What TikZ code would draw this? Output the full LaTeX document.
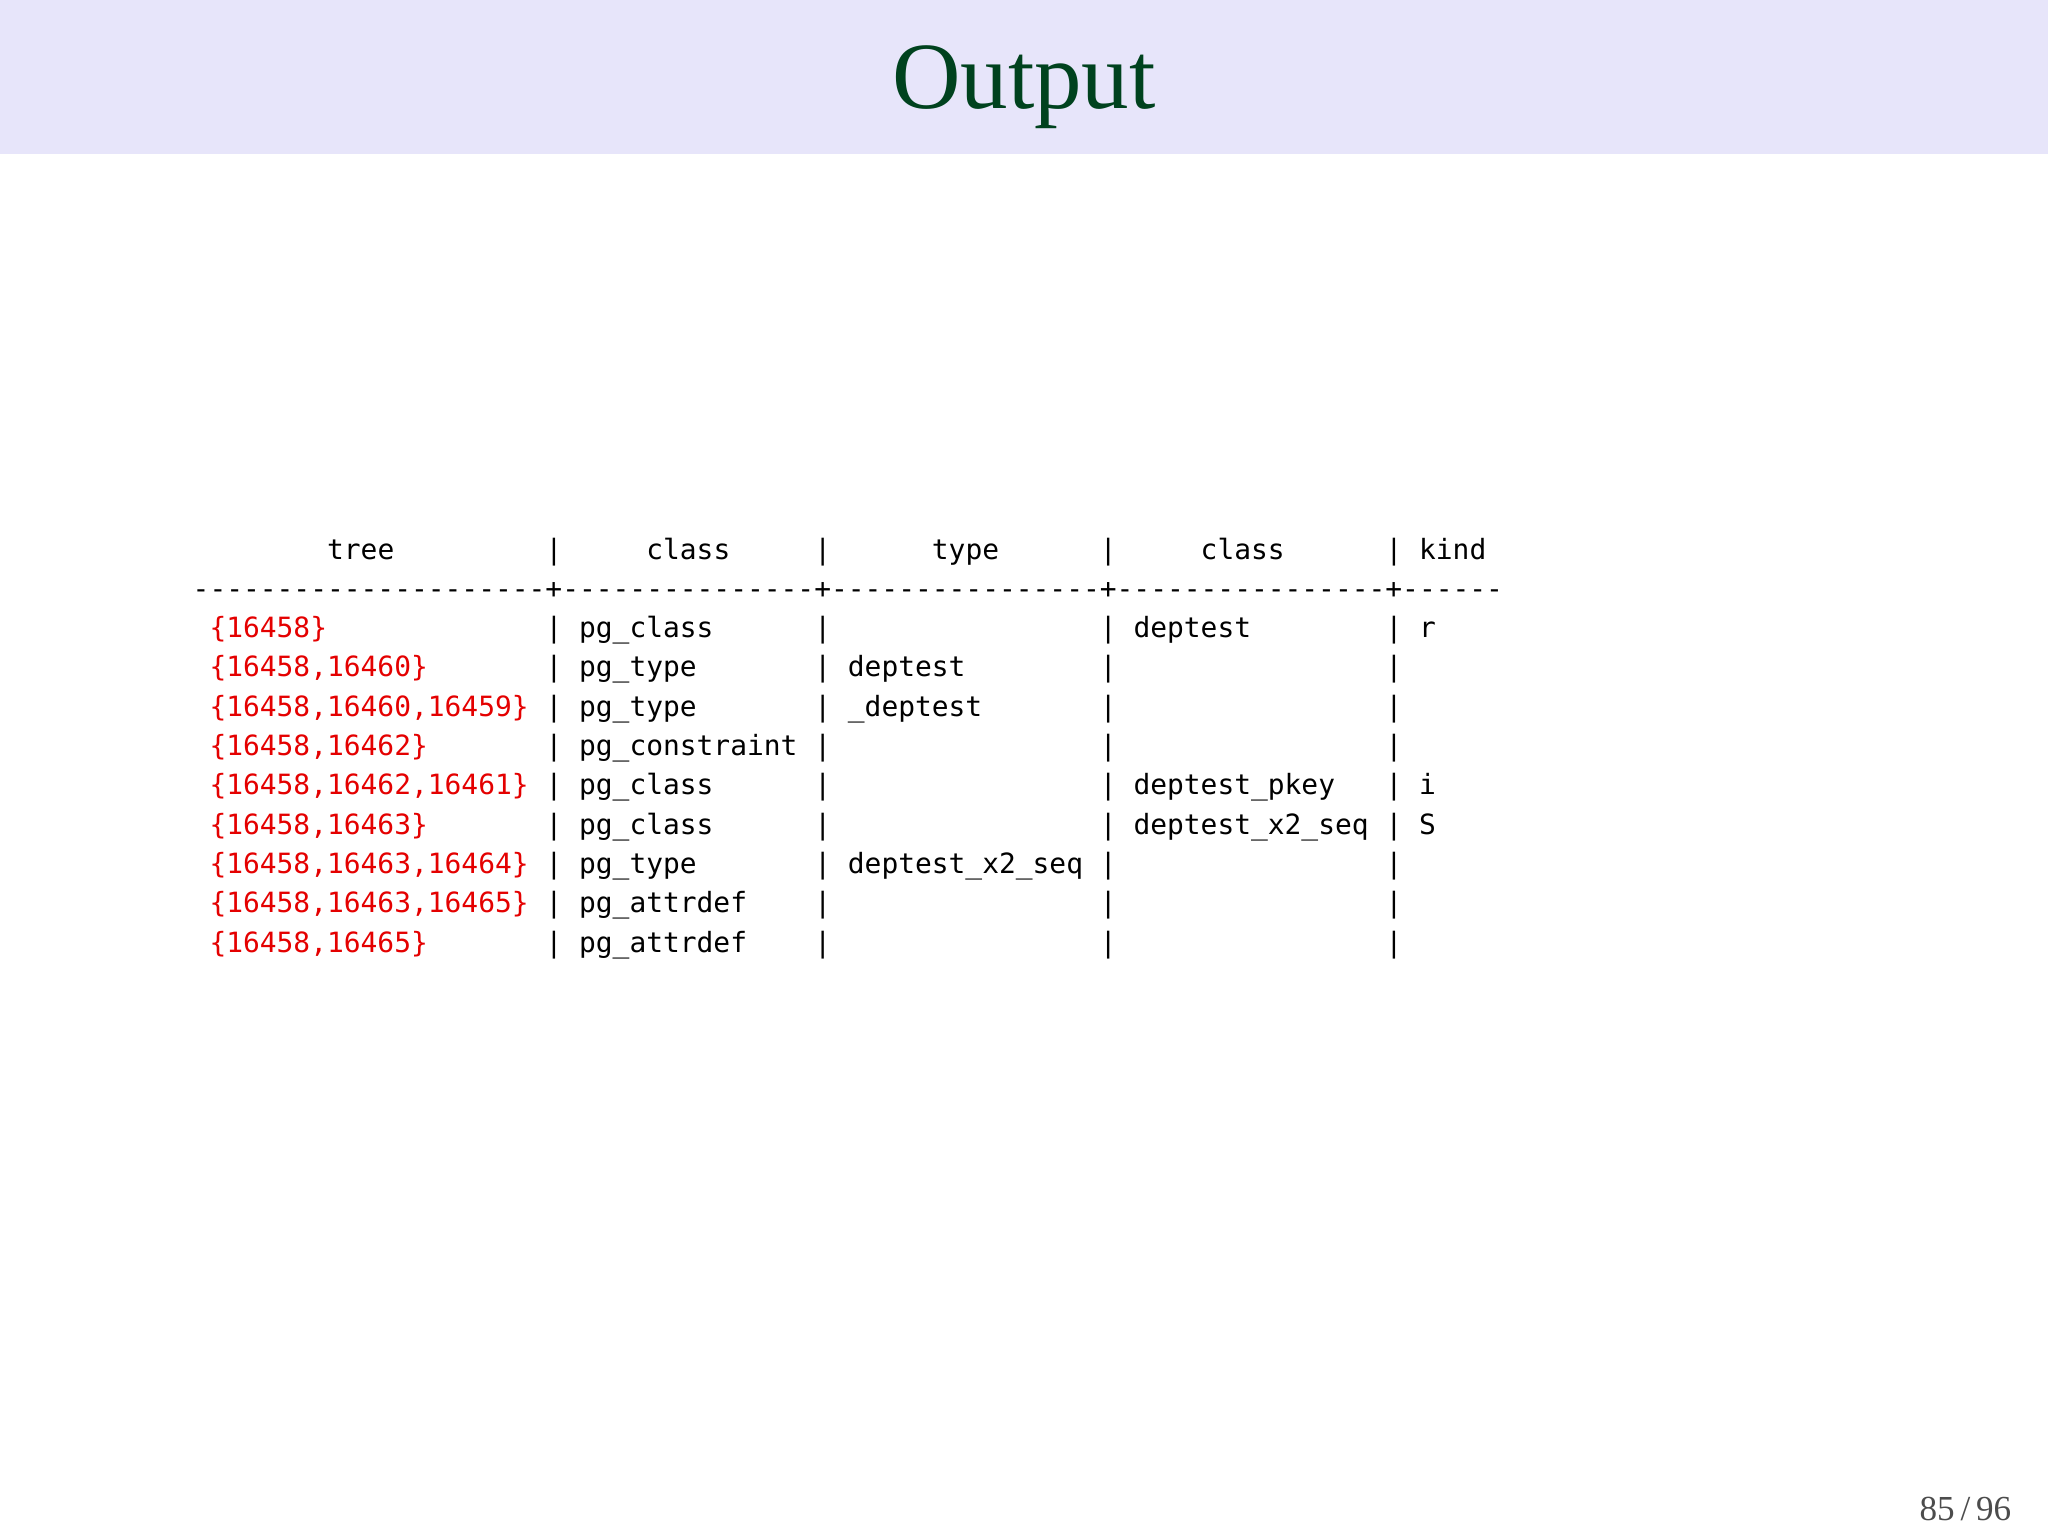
\documentclass[tikz,border=0pt]{standalone}
\usepackage{fontspec}
\setmainfont{Liberation Serif}
\newfontfamily\mono{DejaVu Sans Mono}
\definecolor{band}{RGB}{231,229,250}
\definecolor{titlegreen}{RGB}{0,66,30}
\definecolor{treered}{RGB}{228,0,0}
\tikzset{cellt/.style={anchor=base west,inner sep=0pt,font=\mono\fontsize{7.94pt}{9pt}\selectfont}}
\newcommand\cellat[4][black]{\node[cellt,text=#1] at ({1.92+#2*0.168},{-5.59-#3*0.393}) {#4};}
\def\dd{-{}}
\begin{document}
\begin{tikzpicture}[x=1cm,y=1cm]
\useasboundingbox (0,0) rectangle (20.48,-15.36);
\fill[band] (0,0) rectangle (20.48,-1.54);
\node[font=\fontsize{27pt}{30pt}\selectfont,text=titlegreen] (title) at (10.24,-0.87) {Output};
% header
\cellat{8}{0}{tree}
\cellat{27}{0}{class}
\cellat{44}{0}{type}
\cellat{60}{0}{class}
\cellat{73}{0}{kind}
\foreach \c in {21,37,54,71}{\cellat{\c}{0}{|}}
% dash line
\cellat{0}{1}{\dd\dd\dd\dd\dd\dd\dd\dd\dd\dd\dd\dd\dd\dd\dd\dd\dd\dd\dd\dd\dd+\dd\dd\dd\dd\dd\dd\dd\dd\dd\dd\dd\dd\dd\dd\dd+\dd\dd\dd\dd\dd\dd\dd\dd\dd\dd\dd\dd\dd\dd\dd\dd+\dd\dd\dd\dd\dd\dd\dd\dd\dd\dd\dd\dd\dd\dd\dd\dd+\dd\dd\dd\dd\dd\dd}
% rows
\foreach \r in {2,...,10}{\foreach \c in {21,37,54,71}{\cellat{\c}{\r}{|}}}
\cellat[treered]{1}{2}{\{16458\}}
\cellat[treered]{1}{3}{\{16458,16460\}}
\cellat[treered]{1}{4}{\{16458,16460,16459\}}
\cellat[treered]{1}{5}{\{16458,16462\}}
\cellat[treered]{1}{6}{\{16458,16462,16461\}}
\cellat[treered]{1}{7}{\{16458,16463\}}
\cellat[treered]{1}{8}{\{16458,16463,16464\}}
\cellat[treered]{1}{9}{\{16458,16463,16465\}}
\cellat[treered]{1}{10}{\{16458,16465\}}
\cellat{23}{2}{pg\_class}
\cellat{23}{3}{pg\_type}
\cellat{23}{4}{pg\_type}
\cellat{23}{5}{pg\_constraint}
\cellat{23}{6}{pg\_class}
\cellat{23}{7}{pg\_class}
\cellat{23}{8}{pg\_type}
\cellat{23}{9}{pg\_attrdef}
\cellat{23}{10}{pg\_attrdef}
\cellat{39}{3}{deptest}
\cellat{39}{4}{\_deptest}
\cellat{39}{8}{deptest\_x2\_seq}
\cellat{56}{2}{deptest}
\cellat{56}{6}{deptest\_pkey}
\cellat{56}{7}{deptest\_x2\_seq}
\cellat{73}{2}{r}
\cellat{73}{6}{i}
\cellat{73}{7}{S}
\node[anchor=base east,inner sep=0pt,font=\fontsize{10pt}{12pt}\selectfont,text=black!70] (pagenum) at (20.12,-15.2) {85\,/\,96};
\end{tikzpicture}
\end{document}
